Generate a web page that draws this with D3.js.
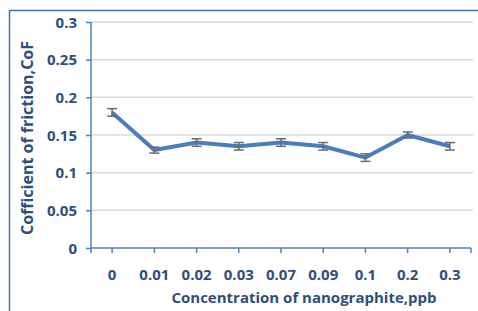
<!DOCTYPE html>
<html>
<head>
<meta charset="utf-8">
<script src="https://cdn.jsdelivr.net/npm/d3@7"></script>
<style>
  body { margin: 0; background: #fff; }
  svg text { font-family: "Open Sans", sans-serif; font-weight: bold; fill: #2d4f7c; }
</style>
</head>
<body>
<svg width="478" height="311"></svg>
<script>
var categories = ["0", "0.01", "0.02", "0.03", "0.07", "0.09", "0.1", "0.2", "0.3"];
var cof = [0.18, 0.13, 0.14, 0.135, 0.14, 0.135, 0.12, 0.15, 0.135];
var err = [0.005, 0.004, 0.005, 0.005, 0.005, 0.005, 0.005, 0.004, 0.005];
var yTicks = [0, 0.05, 0.1, 0.15, 0.2, 0.25, 0.3];

var svg = d3.select("svg"),
    margin = {top: 22, right: 7, bottom: 63, left: 91},
    width = 478 - margin.left - margin.right,
    height = 311 - margin.top - margin.bottom;

// outer frame (only top and left visible)
svg.append("path")
    .attr("d", "M9.5,311V10.5H478")
    .attr("fill", "none")
    .attr("stroke", "#4a6fa5")
    .attr("stroke-width", 1.5);

var g = svg.append("g").attr("transform", "translate(" + margin.left + "," + margin.top + ")");

var x = d3.scaleBand().domain(categories).range([0, width]);
var y = d3.scaleLinear().domain([0, 0.3]).range([height, 0]);

// gridlines
g.append("g")
    .selectAll("line")
    .data(yTicks.slice(1))
    .enter().append("line")
    .attr("x1", 0)
    .attr("x2", width + 2)
    .attr("y1", function(d) { return y(d); })
    .attr("y2", function(d) { return y(d); })
    .attr("stroke", "#d9d9d9")
    .attr("stroke-width", 1.5);

// y axis
var yAxis = g.append("g")
    .call(d3.axisLeft(y).tickValues(yTicks).tickSize(5).tickPadding(9)
        .tickFormat(function(d) { return String(d); }));
yAxis.select(".domain").attr("stroke", "#4f81bd").attr("stroke-width", 1.5).attr("d", "M0," + height + "V0");
yAxis.selectAll(".tick line").attr("stroke", "#4f81bd").attr("stroke-width", 1.5);
yAxis.selectAll("text").attr("font-size", 15).attr("dy", "0.35em");

// x axis
var xAxis = g.append("g")
    .attr("transform", "translate(0," + height + ")")
    .call(d3.axisBottom(x).tickSize(5).tickPadding(16));
xAxis.select(".domain").attr("stroke", "#4f81bd").attr("stroke-width", 1.5).attr("d", "M0,0H" + width);
xAxis.selectAll(".tick line").attr("stroke", "#4f81bd").attr("stroke-width", 1.5);
xAxis.selectAll("text").attr("font-size", 15);
xAxis.selectAll(".edge")
    .data([0, width])
    .enter().append("line")
    .attr("x1", function(d) { return d; })
    .attr("x2", function(d) { return d; })
    .attr("y1", 0).attr("y2", 5)
    .attr("stroke", "#4f81bd")
    .attr("stroke-width", 1.5);

var cx = function(d, i) { return x(categories[i]) + x.bandwidth() / 2; };

// line
g.append("path")
    .datum(cof)
    .attr("fill", "none")
    .attr("stroke", "#4a7ebb")
    .attr("stroke-width", 4)
    .attr("stroke-linejoin", "round")
    .attr("d", d3.line().x(cx).y(function(d) { return y(d); }));

// error bars
var eb = g.append("g")
    .attr("stroke", "#6b6b6b")
    .attr("stroke-width", 1.5)
    .selectAll("g")
    .data(cof)
    .enter().append("g");
eb.append("line")
    .attr("x1", cx).attr("x2", cx)
    .attr("y1", function(d, i) { return y(d - err[i]); })
    .attr("y2", function(d, i) { return y(d + err[i]); });
eb.append("line")
    .attr("x1", function(d, i) { return cx(d, i) - 5; })
    .attr("x2", function(d, i) { return cx(d, i) + 5; })
    .attr("y1", function(d, i) { return y(d + err[i]); })
    .attr("y2", function(d, i) { return y(d + err[i]); });
eb.append("line")
    .attr("x1", function(d, i) { return cx(d, i) - 5; })
    .attr("x2", function(d, i) { return cx(d, i) + 5; })
    .attr("y1", function(d, i) { return y(d - err[i]); })
    .attr("y2", function(d, i) { return y(d - err[i]); });

// axis titles
svg.append("text")
    .attr("x", 304)
    .attr("y", 303)
    .attr("text-anchor", "middle")
    .attr("font-size", 15)
    .text("Concentration of nanographite,ppb");

svg.append("text")
    .attr("transform", "translate(33,138) rotate(-90)")
    .attr("text-anchor", "middle")
    .attr("font-size", 16)
    .text("Cofficient of friction,CoF");
</script>
</body>
</html>
